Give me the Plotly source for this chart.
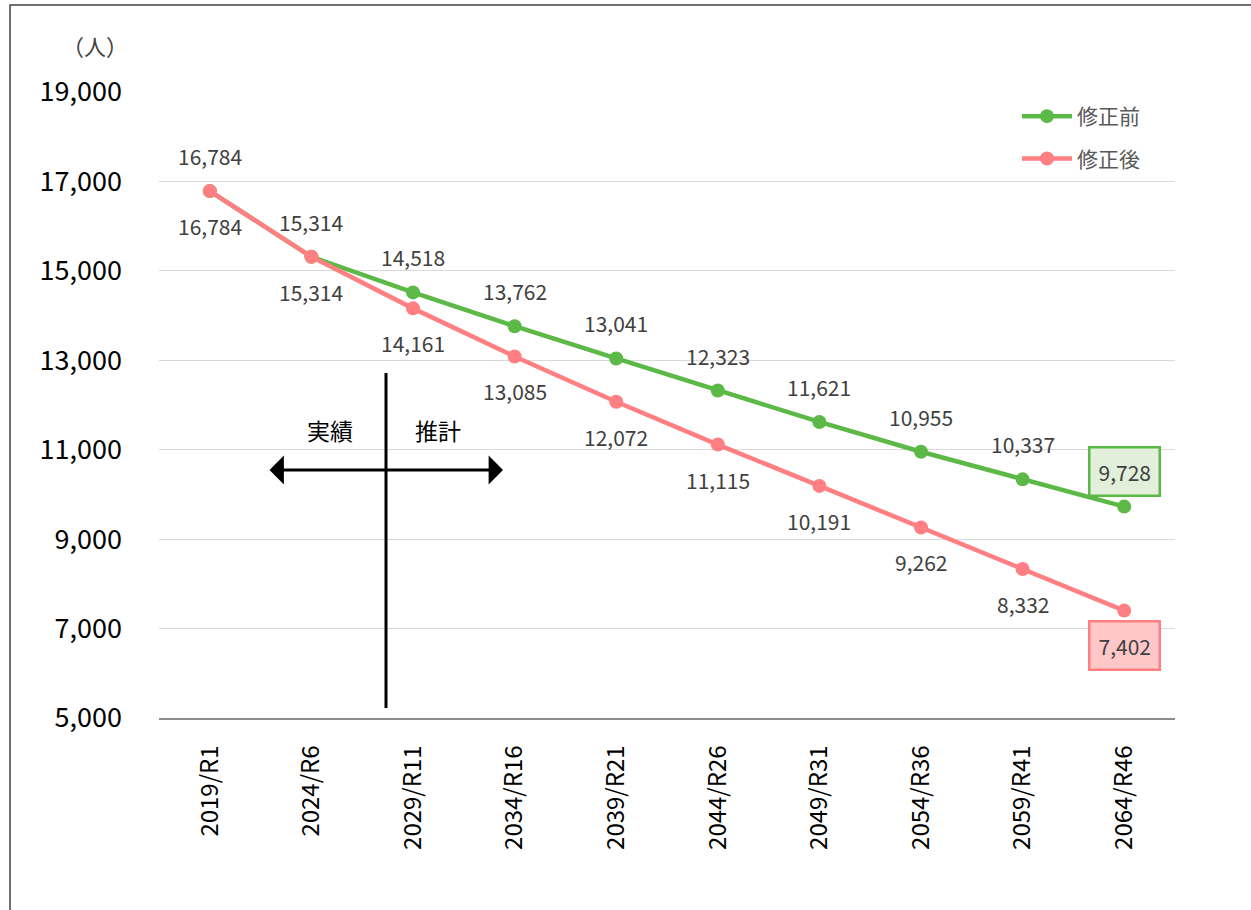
import plotly.graph_objects as go

categories = ["2019/R1", "2024/R6", "2029/R11", "2034/R16", "2039/R21",
              "2044/R26", "2049/R31", "2054/R36", "2059/R41", "2064/R46"]
before_vals = [16784, 15314, 14518, 13762, 13041, 12323, 11621, 10955, 10337, 9728]
after_vals = [16784, 15314, 14161, 13085, 12072, 11115, 10191, 9262, 8332, 7402]
series_names = ["修正前", "修正後"]
y_ticks = [5000, 7000, 9000, 11000, 13000, 15000, 17000, 19000]

GREEN = "#5cb947"
RED = "#ff7f83"
FONT = "Noto Sans CJK JP"

W, H = 1251, 910
ML, MR, MT, MB = 159, 76, 92, 192
PW, PH = W - ML - MR, H - MT - MB


def px(x):
    return (x - ML) / PW


def py(y):
    return (H - MB - y) / PH


fig = go.Figure()
fig.add_trace(go.Scatter(x=categories, y=before_vals, name=series_names[0],
                         mode="lines+markers", line=dict(color=GREEN, width=4.5),
                         marker=dict(size=14, color=GREEN), legendgroup="a"))
fig.add_trace(go.Scatter(x=categories, y=after_vals, name=series_names[1],
                         mode="lines+markers", line=dict(color=RED, width=4.5),
                         marker=dict(size=14, color=RED), legendgroup="b"))

annotations = []
n = len(categories)
for i, (c, v) in enumerate(zip(categories, before_vals)):
    a = dict(x=c, y=v, xref="x", yref="y", text=f"{v:,}", showarrow=False,
             yshift=35, font=dict(family=FONT, size=21, color="#404040"))
    if i == n - 1:
        a.update(bgcolor="#e2efda", bordercolor=GREEN, borderwidth=2.5, borderpad=8)
    annotations.append(a)
for i, (c, v) in enumerate(zip(categories, after_vals)):
    a = dict(x=c, y=v, xref="x", yref="y", text=f"{v:,}", showarrow=False,
             yshift=-35, font=dict(family=FONT, size=21, color="#404040"))
    if i == n - 1:
        a.update(bgcolor="#ffc7c7", bordercolor=RED, borderwidth=2.5, borderpad=8)
    annotations.append(a)

annotations += [
    dict(x=px(95), y=py(45), xref="paper", yref="paper", text="（人）", showarrow=False,
         xanchor="center", yanchor="middle",
         font=dict(family=FONT, size=22, color="#404040")),
    dict(x=px(330), y=py(430), xref="paper", yref="paper", text="実績", showarrow=False,
         xanchor="center", yanchor="middle",
         font=dict(family=FONT, size=23, color="#000000")),
    dict(x=px(438), y=py(430), xref="paper", yref="paper", text="推計", showarrow=False,
         xanchor="center", yanchor="middle",
         font=dict(family=FONT, size=23, color="#000000")),
    dict(x=px(503), y=py(470), xref="paper", yref="paper", text="", showarrow=True,
         ax=-(503 - 268), ay=0, axref="pixel", ayref="pixel",
         arrowside="end+start", arrowhead=1, startarrowhead=1,
         arrowwidth=3, arrowsize=1.6, startarrowsize=1.6, arrowcolor="#000000"),
]

shapes = [
    dict(type="line", xref="paper", yref="paper", x0=px(386), x1=px(386),
         y0=py(373), y1=py(708), line=dict(color="#000000", width=3)),
    dict(type="rect", xref="paper", yref="paper", x0=px(10), x1=px(1270),
         y0=py(930), y1=py(5), line=dict(color="#404040", width=1.5)),
]

fig.update_layout(
    width=W, height=H, autosize=False,
    margin=dict(l=ML, r=MR, t=MT, b=MB),
    paper_bgcolor="white", plot_bgcolor="white",
    font=dict(family=FONT),
    showlegend=True,
    legend=dict(x=px(1145), y=py(96), xanchor="right", yanchor="top",
                font=dict(family=FONT, size=21, color="#595959"),
                bgcolor="rgba(0,0,0,0)", traceorder="grouped", tracegroupgap=12,
                itemwidth=50),
    annotations=annotations,
    shapes=shapes,
    xaxis=dict(type="category", tickangle=-90, showgrid=False, showline=True,
               linecolor="#8c8c8c", linewidth=1.5, ticks="",
               tickfont=dict(family=FONT, size=24, color="#000000"),
               ticklabelstandoff=16, range=[-0.5, n - 0.5]),
    yaxis=dict(range=[5000, 19000], tickvals=y_ticks, tickformat=",",
               showgrid=True, gridcolor="#d9d9d9", gridwidth=1, zeroline=False,
               showline=False, ticks="",
               tickfont=dict(family=FONT, size=27, color="#000000"),
               ticklabelstandoff=36),
)

fig.write_html("out.html")
